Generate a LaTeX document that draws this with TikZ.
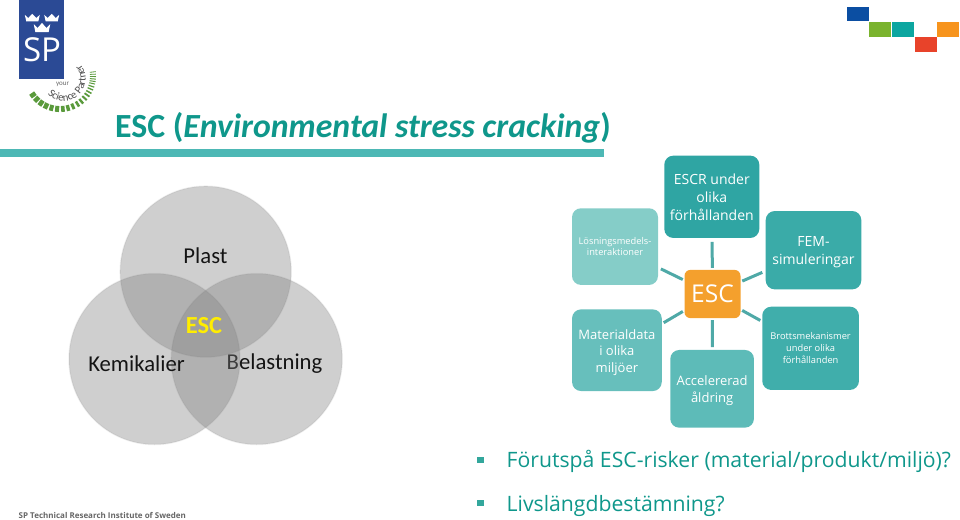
\documentclass[tikz,border=0pt]{standalone}
\usepackage{fontspec}
\setmainfont{Open Sans}
\newfontfamily\calf{Carlito}
\usetikzlibrary{decorations.text}
\definecolor{titlec}{HTML}{0F978B}
\definecolor{barc}{HTML}{4DB8B5}
\definecolor{logoblue}{HTML}{2B4A95}
\definecolor{linkc}{HTML}{4FA9A7}
\definecolor{sone}{HTML}{0B4EA2}
\definecolor{stwo}{HTML}{7AB32E}
\definecolor{sthree}{HTML}{0CA6A0}
\definecolor{sfour}{HTML}{E8432A}
\definecolor{sfive}{HTML}{F7941D}
\definecolor{dgreen}{HTML}{5A9A3C}
\tikzset{
  box/.style={rounded corners=9pt,text=white,align=center,inner sep=0pt,anchor=center},
  link/.style={draw=linkc,line width=3pt},
  venn/.style={circle,minimum size=171pt,inner sep=0pt,fill=black!50,fill opacity=.375,draw=black!50,draw opacity=.12,line width=1.5pt},
  vlabel/.style={text=black!92,font=\calf\fontsize{22.7}{24}\selectfont,anchor=center,inner sep=0pt},
  sq/.style={inner sep=0pt,minimum width=22pt,minimum height=14.4pt,anchor=north west},
  bullet/.style={fill=titlec!85,inner sep=0pt,minimum width=7pt,minimum height=6pt},
  bodytext/.style={text=titlec,anchor=base west,inner sep=0pt,font=\fontsize{21.2}{24}\selectfont},
  crown/.pic={\fill[white] (-7.5,-4.5) -- (-4,0) -- (0,-6) -- (4,0) -- (7.5,-4.5) -- (6,5) -- (-6,5) -- cycle;}
}
\begin{document}
\begin{tikzpicture}[x=1pt,y=-1pt]
\useasboundingbox (0,0) rectangle (960,519);
% logo
\node[fill=logoblue,minimum width=45pt,minimum height=79pt,inner sep=0pt,anchor=north west] (logo) at (19,0) {};
\pic[yscale=.7] at (32.3,18) {crown};
\pic[yscale=.7] at (51.7,18) {crown};
\pic[xscale=1.1,yscale=.85] at (42,28) {crown};
\node[text=white,font=\fontsize{33}{33}\selectfont,inner sep=0pt,anchor=base] (sp) at (42,62) {SP};
% logo arcs
\foreach \a/\w in {145/4.5,135/4.5,125/4.5,115/4.5,105/4,95/4,85/3.6,76/3.4,67/3,58/2.6,50/2.4,42/2,35/1.8,29/1.5,23/1.3,18/1.2,13/1,9/1,5/1,1/.8,-3/.8,-7/.8}
  \draw[line width=\w pt,dgreen] ({60+30*cos(\a)},{76+30*sin(\a)}) -- ({60+36*cos(\a)},{76+36*sin(\a)});
\node[text=black!60,font=\calf\fontsize{7}{8}\selectfont,inner sep=0pt] (your) at (62.5,84.5) {your};
\path[decorate,decoration={text along path,text align=center,text={|\calf\fontsize{10.8}{13}\selectfont\color{black!70}|Science Partner}}]
  (43.03,86.52) .. controls (48.4,101.28) and (66.99,105.83) .. (78.56,95.22) .. controls (90.13,84.61) and (87.22,65.7) .. (73,59.06);
% title
\node[text=titlec,anchor=base west,inner sep=0pt,font=\calf\bfseries\fontsize{33.8}{36}\selectfont] (title) at (115,137) {ESC (\textit{Environmental stress cracking})};
\fill[barc] (0,149) rectangle (604,157);
% corner squares
\node[sq,fill=sone] (s1) at (846.3,6.7) {};
\node[sq,fill=stwo] (s2) at (869,22) {};
\node[sq,fill=sthree] (s3) at (892,22) {};
\node[sq,fill=sfour] (s4) at (914.3,37) {};
\node[sq,fill=sfive] (s5) at (936.8,22) {};
% venn
\node[venn] (vb) at (256.7,359) {};
\node[vlabel] (lb) at (274.5,363.5) {Belastning};
\node[venn] (vk) at (154.5,359) {};
\node[venn] (vp) at (205.7,271.7) {};
\node[vlabel] (lk) at (136.5,363.5) {Kemikalier};
\node[vlabel] (lp) at (205.5,255.5) {Plast};
\node[vlabel,text=yellow!95!orange,font=\calf\bfseries\fontsize{24.5}{26}\selectfont] (le) at (204,326) {ESC};
% smart art
\node[box,minimum width=56pt,minimum height=48.3pt,rounded corners=6pt,font=\fontsize{24.5}{30}\selectfont,fill={rgb,255:red,244;green,160;blue,45}] (esc) at (712.5,294) {ESC};
\node[box,fill={rgb,255:red,47;green,165;blue,163},minimum width=95pt,minimum height=82.3pt,font=\fontsize{14}{18}\selectfont] (escr) at (711.8,196.8) {ESCR under\\olika\\förhållanden};
\node[box,fill={rgb,255:red,58;green,171;blue,168},minimum width=95.6pt,minimum height=78.3pt,font=\fontsize{14}{18}\selectfont] (fem) at (813.5,250.2) {\rule{0pt}{14.5pt}FEM-\\simuleringar};
\node[box,fill={rgb,255:red,133;green,205;blue,200},minimum width=86pt,minimum height=76.7pt,font=\fontsize{9.3}{11}\selectfont] (los) at (615,246.6) {Lösningsmedels-\\interaktioner};
\node[box,fill={rgb,255:red,103;green,191;blue,188},minimum width=89.7pt,minimum height=81.7pt,font=\fontsize{13}{16.5}\selectfont] (mat) at (616.9,350.2) {\rule{0pt}{14pt}Materialdata\\i olika\\miljöer};
\node[box,fill={rgb,255:red,93;green,187;blue,184},minimum width=83.7pt,minimum height=77.7pt,font=\fontsize{13}{17}\selectfont] (acc) at (712.1,388.8) {\rule{0pt}{14pt}Accelererad\\åldring};
\node[box,fill={rgb,255:red,64;green,174;blue,171},minimum width=96.7pt,minimum height=83.3pt,font=\fontsize{9.3}{12}\selectfont] (bro) at (810.6,348.3) {Brottsmekanismer\\under olika\\förhållanden};
\draw[link,shorten <=1.7pt,shorten >=3.7pt] (esc) -- (escr);
\draw[link,shorten <=1.7pt,shorten >=3.5pt] (esc) -- (fem);
\draw[link,shorten <=1.7pt,shorten >=2pt] (esc) -- (bro);
\draw[link,shorten <=1.7pt,shorten >=2.7pt] (esc) -- (acc);
\draw[link,shorten <=1.7pt,shorten >=2pt] (esc) -- (mat);
\draw[link,shorten <=1.7pt,shorten >=3pt] (esc) -- (los);
% bullets
\node[bullet] (b1) at (480.8,459.7) {};
\node[bullet] (b2) at (480.8,503) {};
\node[bodytext] (t1) at (506.5,467.5) {Förutspå ESC-risker (material/produkt/miljö)?};
\node[bodytext] (t2) at (506.5,511) {Livslängdbestämning?};
% footer
\node[text=black!60,anchor=base west,inner sep=0pt,font=\bfseries\fontsize{8}{9}\selectfont] (foot) at (18.5,518.8) {SP Technical Research Institute of Sweden};
\end{tikzpicture}
\end{document}
